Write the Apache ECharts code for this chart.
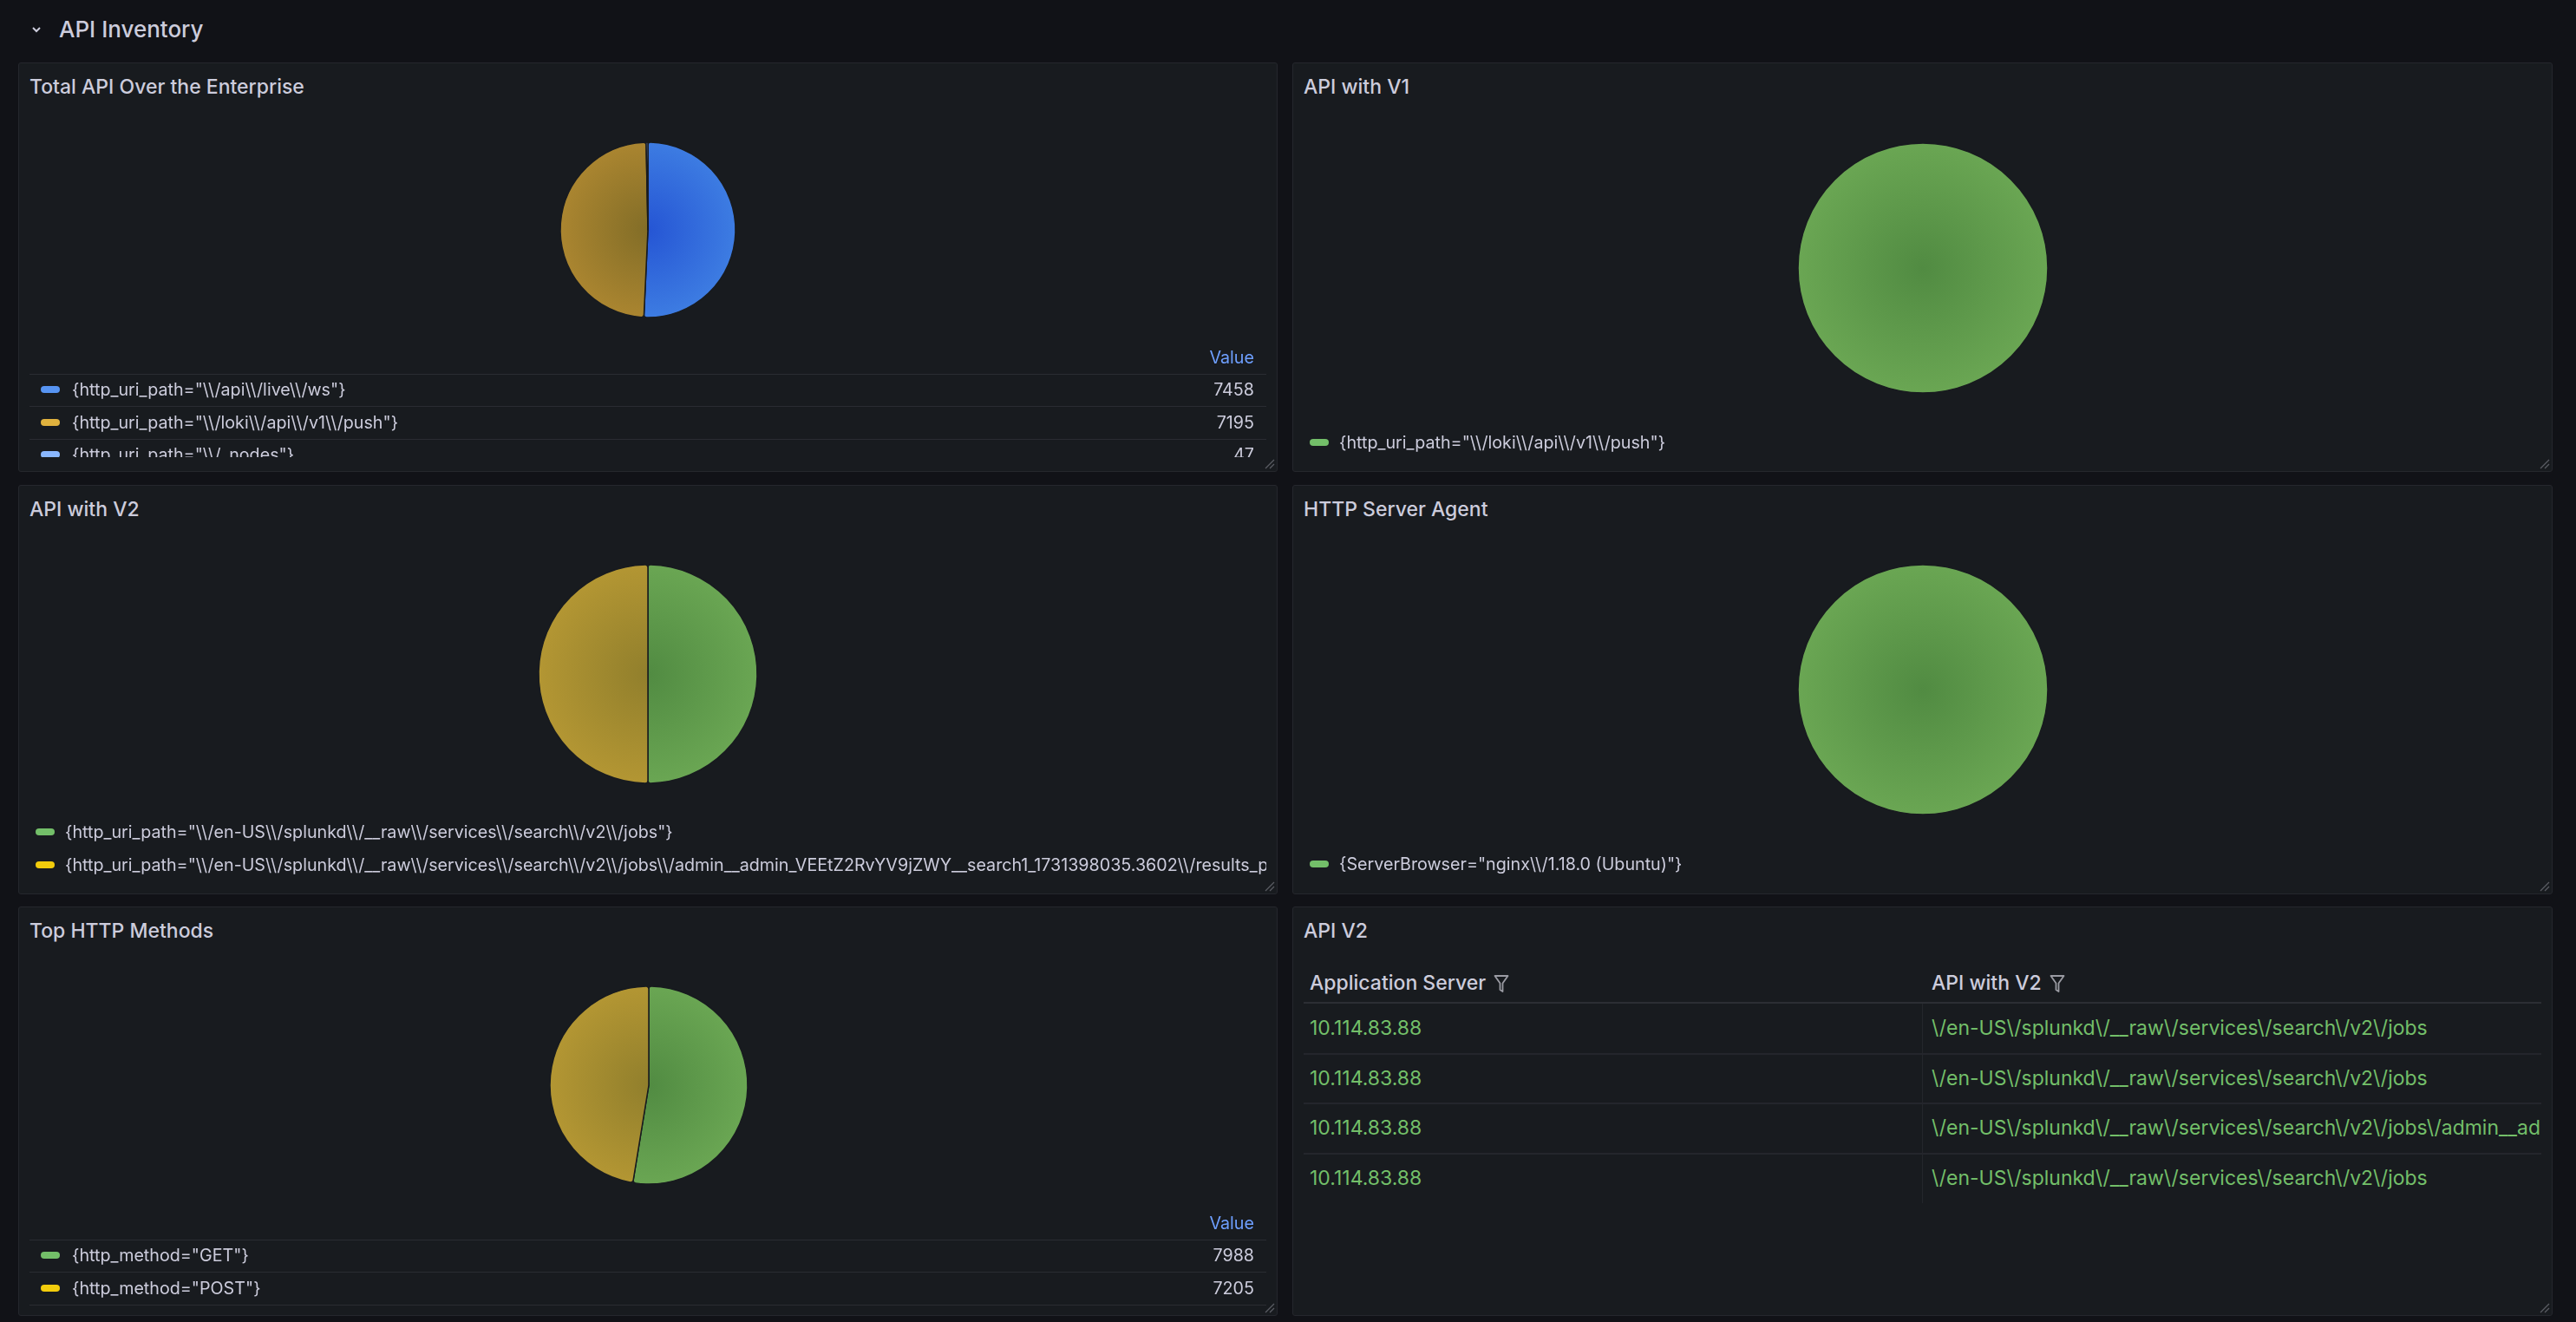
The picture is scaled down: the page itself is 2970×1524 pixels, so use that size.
<!DOCTYPE html>
<html lang="en">
<head>
<meta charset="UTF-8">
<title>API Inventory</title>
<style>
  body { margin: 0; width: 2970px; height: 1524px; overflow: hidden; position: relative;
         background: #111217; font-family: Inter, "Noto Sans", sans-serif; color: #ccccdc; }
  .row-title { position: absolute; left: 68px; top: 16px; font-size: 26px; font-weight: 500; line-height: 36px; }
  .chevron { position: absolute; left: 36px; top: 30px; }
  .panel { position: absolute; background: #181b1f; border: 1px solid #25272d; border-radius: 3px;
           box-sizing: border-box; overflow: hidden; }
  .ptitle { position: absolute; left: 12px; top: 11px; font-size: 23px; font-weight: 500; line-height: 32px; white-space: nowrap; }
  .chart { position: absolute; left: 0; top: 0; width: 100%; height: 100%; }
  .leg { position: absolute; left: 0; right: 0; overflow: hidden; }
  .item { position: absolute; height: 32px; line-height: 32px; font-size: 19.7px; white-space: nowrap; }
  .mark { position: absolute; top: 12px; width: 22px; height: 8px; border-radius: 4px; }
  .val { position: absolute; height: 32px; line-height: 32px; font-size: 19.7px; text-align: right; }
  .sep { position: absolute; height: 1px; background: #2a2c32; }
  .hdr { color: #6e9fff; }
  .cell { position: absolute; height: 34px; line-height: 34px; font-size: 23px; white-space: nowrap; overflow: hidden; color: #73bf69; }
  .th { position: absolute; height: 34px; line-height: 34px; font-size: 23px; font-weight: 500; white-space: nowrap; color: #ccccdc; }
  .th svg { vertical-align: -4px; margin-left: 9px; }
  .grip { position: absolute; right: 2px; bottom: 2px; }
</style>
</head>
<body>
<svg class="chevron" width="12" height="9" viewBox="0 0 12 9"><polyline points="2,2 6,6 10,2" fill="none" stroke="#ccccdc" stroke-width="2"/></svg>
<div class="row-title">API Inventory</div>

<div class="panel" id="p1" style="left:21px;top:72px;width:1452px;height:472px;"><div class="ptitle">Total API Over the Enterprise</div></div>
<div class="panel" id="p2" style="left:1490px;top:72px;width:1453px;height:472px;"><div class="ptitle">API with V1</div></div>
<div class="panel" id="p3" style="left:21px;top:559px;width:1452px;height:472px;"><div class="ptitle">API with V2</div></div>
<div class="panel" id="p4" style="left:1490px;top:559px;width:1453px;height:472px;"><div class="ptitle">HTTP Server Agent</div></div>
<div class="panel" id="p5" style="left:21px;top:1045px;width:1452px;height:472px;"><div class="ptitle">Top HTTP Methods</div></div>
<div class="panel" id="p6" style="left:1490px;top:1045px;width:1453px;height:472px;"><div class="ptitle">API V2</div></div>

<script src="https://cdn.jsdelivr.net/npm/echarts@6/dist/echarts.min.js"></script>
<script>
// ---- data ----
const totalNames = [
  String.raw`{http_uri_path="\\/api\\/live\\/ws"}`,
  String.raw`{http_uri_path="\\/loki\\/api\\/v1\\/push"}`,
  String.raw`{http_uri_path="\\/_nodes"}`
];
const totalValues = [7458, 7195, 47];

const v1Names = [String.raw`{http_uri_path="\\/loki\\/api\\/v1\\/push"}`];
const v1Values = [7195];

const v2Names = [
  String.raw`{http_uri_path="\\/en-US\\/splunkd\\/__raw\\/services\\/search\\/v2\\/jobs"}`,
  String.raw`{http_uri_path="\\/en-US\\/splunkd\\/__raw\\/services\\/search\\/v2\\/jobs\\/admin__admin_VEEtZ2RvYV9jZWY__search1_1731398035.3602\\/results_preview"}`
];
const v2Values = [1, 1];

const agentNames = [String.raw`{ServerBrowser="nginx\\/1.18.0 (Ubuntu)"}`];
const agentValues = [15193];

const methodNames = ['{http_method="GET"}', '{http_method="POST"}'];
const methodValues = [7988, 7205];

const tableColumns = ['Application Server', 'API with V2'];
const tableServers = ['10.114.83.88', '10.114.83.88', '10.114.83.88', '10.114.83.88'];
const tableApis = [
  String.raw`\/en-US\/splunkd\/__raw\/services\/search\/v2\/jobs`,
  String.raw`\/en-US\/splunkd\/__raw\/services\/search\/v2\/jobs`,
  String.raw`\/en-US\/splunkd\/__raw\/services\/search\/v2\/jobs\/admin__admin_VEEtZ2RvYV9jZWY__search1_1731398035.3602\/results_preview`,
  String.raw`\/en-US\/splunkd\/__raw\/services\/search\/v2\/jobs`
];

// legend colour, gradient centre, gradient edge
const BLUE = ['#5794f2', '#2555d4', '#3d7ce2'];
const ORANGE = ['#e0b23e', '#826d27', '#aa8530'];
const LBLUE = ['#8ab8ff', '#4f73b8', '#6f96d8'];
const GREEN = ['#73bf69', '#518b42', '#6aa653'];
const YELLOW = ['#f2cc0c', '#917f2c', '#b39633'];

// ---- helpers ----
function el(tag, cls, parent, style, text) {
  const e = document.createElement(tag);
  if (cls) e.className = cls;
  if (style) e.style.cssText = style;
  if (text !== undefined) e.textContent = text;
  parent.appendChild(e);
  return e;
}

function grip(panel) {
  const s = '<svg class="grip" width="14" height="14" viewBox="0 0 14 14">' +
    '<line x1="3" y1="13" x2="13" y2="3" stroke="#5a5c63" stroke-width="1.2"/>' +
    '<line x1="8" y1="13" x2="13" y2="8" stroke="#5a5c63" stroke-width="1.2"/></svg>';
  panel.insertAdjacentHTML('beforeend', s);
}

function drawPie(panel, cx, cy, r, names, values, colors) {
  const div = el('div', 'chart', panel);
  const chart = echarts.init(div);
  chart.setOption({
    animation: false,
    series: [{
      type: 'pie',
      center: [cx, cy],
      radius: [0, r],
      startAngle: 90,
      silent: true,
      label: { show: false },
      labelLine: { show: false },
      itemStyle: { borderColor: '#181b1f', borderWidth: 1.5, borderRadius: 3 },
      data: names.map((n, i) => ({
        name: n,
        value: values[i],
        itemStyle: {
          color: {
            type: 'radial', x: cx, y: cy, r: r, global: true,
            colorStops: [{ offset: 0, color: colors[i][1] }, { offset: 1, color: colors[i][2] }]
          }
        }
      }))
    }]
  });
}

// list legend: rows given by centre y
function listLegend(panel, names, colors, ys, left) {
  const box = el('div', 'leg', panel, 'top:0;bottom:0;right:12px;');
  names.forEach((n, i) => {
    el('div', 'mark', box, `left:${left}px;top:${ys[i] - 4}px;background:${colors[i][0]};`);
    el('div', 'item', box, `left:${left + 34}px;top:${ys[i] - 16}px;`, n);
  });
}

// table legend with Value column
function tableLegend(panel, names, values, colors, headY, rowYs, clipBottom) {
  const box = el('div', 'leg', panel, `top:0;bottom:${clipBottom}px;`);
  el('div', 'val hdr', box, `right:26px;top:${headY - 16}px;`, 'Value');
  const w = panel.clientWidth;
  el('div', 'sep', box, `left:12px;width:${w - 24}px;top:${headY + 19}px;`);
  names.forEach((n, i) => {
    el('div', 'mark', box, `left:25px;top:${rowYs[i] - 4}px;background:${colors[i][0]};`);
    el('div', 'item', box, `left:61px;top:${rowYs[i] - 16}px;`, n);
    el('div', 'val', box, `right:26px;top:${rowYs[i] - 16}px;`, String(values[i]));
    el('div', 'sep', box, `left:12px;width:${w - 24}px;top:${rowYs[i] + 19}px;`);
  });
}

// ---- panels ----
const p1 = document.getElementById('p1');
drawPie(p1, 725, 192, 101, totalNames, totalValues, [BLUE, ORANGE, LBLUE]);
tableLegend(p1, totalNames, totalValues, [BLUE, ORANGE, LBLUE], 339, [376, 414, 451], 16);
grip(p1);

const p2 = document.getElementById('p2');
drawPie(p2, 726, 236, 144, v1Names, v1Values, [GREEN]);
listLegend(p2, v1Names, [GREEN], [437], 19);
grip(p2);

const p3 = document.getElementById('p3');
drawPie(p3, 725, 217, 126, v2Names, v2Values, [GREEN, YELLOW]);
listLegend(p3, v2Names, [GREEN, YELLOW], [399, 437], 19);
grip(p3);

const p4 = document.getElementById('p4');
drawPie(p4, 726, 235, 144, agentNames, agentValues, [GREEN]);
listLegend(p4, agentNames, [GREEN], [436], 19);
grip(p4);

const p5 = document.getElementById('p5');
drawPie(p5, 726, 205, 114, methodNames, methodValues, [GREEN, YELLOW]);
tableLegend(p5, methodNames, methodValues, [GREEN, YELLOW], 364, [401, 439], 0);
grip(p5);

// ---- API V2 table ----
const p6 = document.getElementById('p6');
const funnel = '<svg width="18" height="22" viewBox="0 0 18 22"><path d="M1.5 2 H16.5 L10.5 10.5 V20 L7.5 18 V10.5 Z" fill="none" stroke="#9a9ba3" stroke-width="1.8" stroke-linejoin="round"/></svg>';
const colX = [19, 736];
const colW = [700, 703];
tableColumns.forEach((c, i) => {
  const th = el('div', 'th', p6, `left:${colX[i]}px;top:${87 - 17}px;`, c);
  th.insertAdjacentHTML('beforeend', funnel);
});
el('div', 'sep', p6, 'left:12px;width:1427px;top:109px;height:2px;background:#2c2e34;');
const rowH = 57.5;
tableServers.forEach((s, i) => {
  const cy = 139 + i * rowH;
  el('div', 'cell', p6, `left:${colX[0]}px;width:${colW[0]}px;top:${cy - 17}px;`, s);
  el('div', 'cell', p6, `left:${colX[1]}px;width:${colW[1]}px;top:${cy - 17}px;`, tableApis[i]);
  if (i < tableServers.length - 1) {
    el('div', 'sep', p6, `left:12px;width:1427px;top:${Math.round(110 + (i + 1) * rowH)}px;height:2px;background:#24262c;`);
  }
});
el('div', 'sep', p6, `left:725px;width:1px;top:111px;height:${Math.round(4 * rowH)}px;background:#24262c;`);
grip(p6);
</script>
</body>
</html>
